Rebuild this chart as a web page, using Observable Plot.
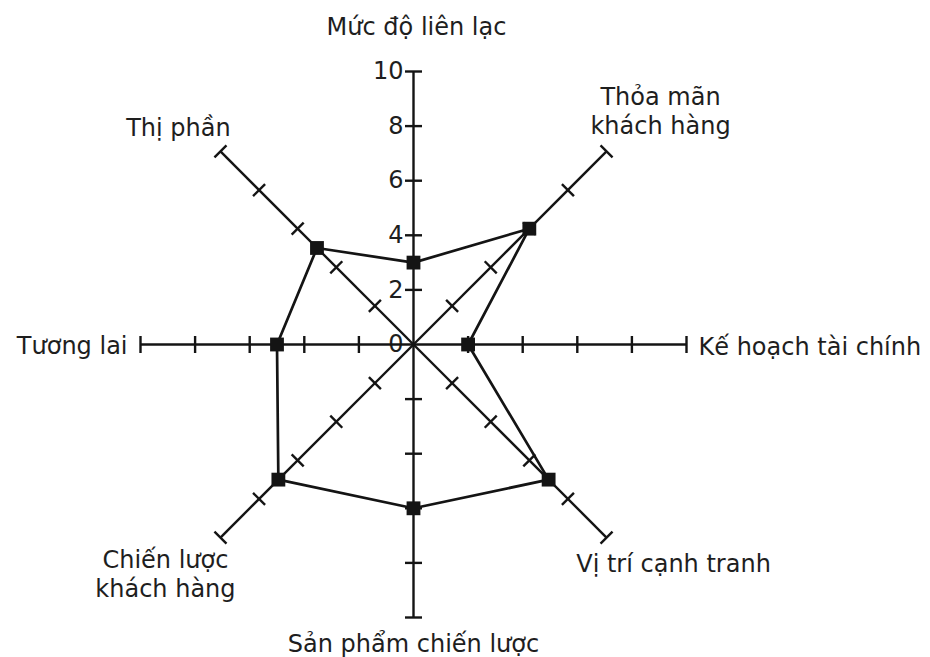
<!DOCTYPE html>
<html>
<head>
<meta charset="utf-8">
<script src="https://cdn.jsdelivr.net/npm/d3@7"></script>
<script src="https://cdn.jsdelivr.net/npm/@observablehq/plot@0.6"></script>
<style>
  html, body { margin: 0; padding: 0; background: #ffffff; }
  #chart { width: 930px; height: 657px; }
</style>
</head>
<body>
<div id="chart"></div>
<script>
// ---- data ----
const axisNames = [
  "Mức độ liên lạc",
  "Thỏa mãn\nkhách hàng",
  "Kế hoạch tài chính",
  "Vị trí cạnh tranh",
  "Sản phẩm chiến lược",
  "Chiến lược\nkhách hàng",
  "Tương lai",
  "Thị phần"
];
const scores = [3, 6, 2, 7, 6, 7, 5, 5];
const tickValues = [2, 4, 6, 8, 10];
const tickLabels = [0, 2, 4, 6, 8, 10];
const maxValue = 10;

// label placement (pixel offsets from the end of each spoke)
const labelDx = [3, 54, 12, 67, 0, -55, -13, -42];
const labelDy = [-46, -41, 1, 25, 25, 36, 0, -25];
const labelAnchor = ["middle", "middle", "start", "middle", "middle", "middle", "end", "middle"];

// ---- geometry derived from data ----
const W = 930, H = 657;
const mL = 140, mR = 244, mT = 71, mB = 40;
const pxPerUnit = (W - mL - mR) / (2 * maxValue);
const tickHalf = 8.5 / pxPerUnit;
const n = axisNames.length;
const dir = axisNames.map((_, i) => {
  const a = i * 2 * Math.PI / n;
  return [Math.sin(a), Math.cos(a)];
});

const spokes = dir.map(([ux, uy]) => ({x1: 0, y1: 0, x2: maxValue * ux, y2: maxValue * uy}));
const tickSegs = dir.flatMap(([ux, uy]) => tickValues.map(t => ({
  x1: t * ux - tickHalf * uy, y1: t * uy + tickHalf * ux,
  x2: t * ux + tickHalf * uy, y2: t * uy - tickHalf * ux
})));
const pts = scores.map((v, i) => ({x: v * dir[i][0], y: v * dir[i][1], name: axisNames[i]}));
const ring = [...pts, pts[0]];

const ink = "#141414";
const textInk = "#1e1e1e";

const labelMarks = axisNames.map((name, i) => Plot.text([name], {
  x: () => maxValue * dir[i][0],
  y: () => maxValue * dir[i][1],
  text: d => d,
  dx: labelDx[i],
  dy: labelDy[i],
  textAnchor: labelAnchor[i],
  lineAnchor: "middle",
  lineHeight: 1.2,
  fontSize: 24,
  fill: textInk
}));

const chart = Plot.plot({
  width: W,
  height: H,
  marginLeft: mL,
  marginRight: mR,
  marginTop: mT,
  marginBottom: mB,
  x: {domain: [-maxValue, maxValue], axis: null},
  y: {domain: [-maxValue, maxValue], axis: null},
  style: {fontFamily: "'DejaVu Sans', Verdana, sans-serif", fontSize: "24px", background: "#ffffff"},
  marks: [
    // value labels on the upward spoke
    Plot.text(tickLabels, {x: 0, y: d => d, text: d => String(d), dx: -10, textAnchor: "end", lineAnchor: "middle", fontSize: 24, fill: textInk}),
    // spokes
    Plot.link(spokes, {x1: "x1", y1: "y1", x2: "x2", y2: "y2", stroke: ink, strokeWidth: 2.4}),
    // cross ticks
    Plot.link(tickSegs, {x1: "x1", y1: "y1", x2: "x2", y2: "y2", stroke: ink, strokeWidth: 2.4}),
    // profile polygon
    Plot.line(ring, {x: "x", y: "y", stroke: ink, strokeWidth: 2.7, strokeLinejoin: "miter"}),
    Plot.dot(pts, {x: "x", y: "y", symbol: "square", r: 7.8, fill: ink, stroke: "none"}),
    ...labelMarks
  ]
});

document.getElementById("chart").appendChild(chart);
</script>
</body>
</html>
